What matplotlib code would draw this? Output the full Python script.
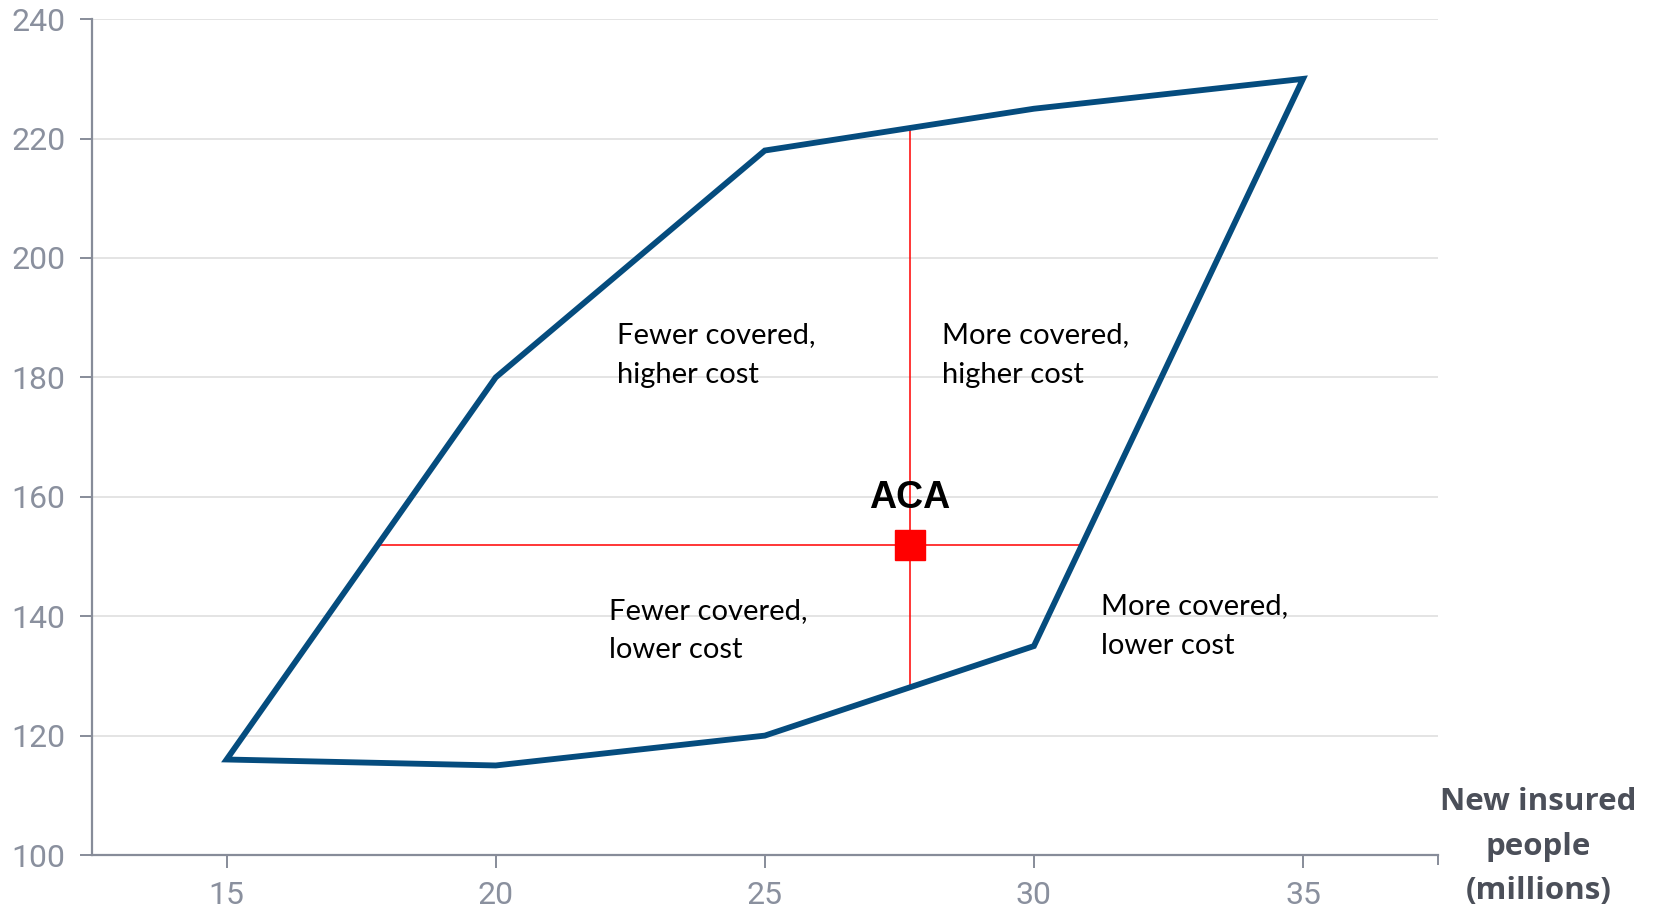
import numpy as np
import matplotlib.pyplot as plt

# outline of the possible outcomes (new insured millions, cost)
outline_x = [15, 20, 25, 30, 35, 30, 25, 20]
outline_y = [116, 180, 218, 225, 230, 135, 120, 115]

aca_x = 27.7
aca_y = 152
hline_x = [17.8, 30.9]
vline_y = [127.8, 221.6]

quadrant_labels = ["Fewer covered,\nhigher cost", "More covered,\nhigher cost",
                   "Fewer covered,\nlower cost", "More covered,\nlower cost"]
quadrant_x = [22.25, 28.3, 22.1, 31.25]
quadrant_y = [183.8, 183.8, 137.6, 138.3]

xticks = [15, 20, 25, 30, 35]
yticks = [100, 120, 140, 160, 180, 200, 220, 240]

axis_col = '#878c99'
tick_col = '#8a909e'

fig = plt.figure(figsize=(16.56, 9.13), dpi=100)
ax = fig.add_axes([0.0556, 0.0635, 0.8125, 0.9155])

ax.set_xlim(12.5, 37.5)
ax.set_ylim(100, 240)

for y in yticks[1:]:
    ax.axhline(y, color='#e2e2e2', lw=1.3, zorder=0)

ax.fill(outline_x, outline_y, fill=False, edgecolor='#054c7e', lw=4.2,
        joinstyle='miter', zorder=3)

ax.plot(hline_x, [aca_y, aca_y], color='#ff0000', lw=1.1, zorder=2)
ax.plot([aca_x, aca_x], vline_y, color='#ff0000', lw=1.1, zorder=2)
ax.plot([aca_x], [aca_y], marker='s', color='#ff0000', markersize=22, zorder=4)
ax.text(aca_x, 159.8, "ACA", ha='center', va='center', fontsize=27,
        fontweight='bold', family='Liberation Sans', color='black')

for lab, x, y in zip(quadrant_labels, quadrant_x, quadrant_y):
    ax.text(x, y, lab, ha='left', va='center', fontsize=21, family='Lato',
            color='black', linespacing=1.65)

ax.text(39.37, 101.4, "New insured\npeople\n(millions)", ha='center', va='center',
        fontsize=22.5, fontweight='bold', family='Open Sans', color='#4b4f59',
        linespacing=1.63, clip_on=False)

for s in ['top', 'right']:
    ax.spines[s].set_visible(False)
for s in ['left', 'bottom']:
    ax.spines[s].set_color(axis_col)
    ax.spines[s].set_linewidth(1.6)

ax.set_xticks(xticks)
ax.set_yticks(yticks)
ax.set_xticks([37.5], minor=True)
ax.tick_params(axis='both', which='both', color=axis_col, width=1.4, length=9,
               direction='out', labelcolor=tick_col, labelsize=23)
ax.tick_params(axis='x', which='minor', length=7)
ax.tick_params(axis='x', pad=10)
ax.tick_params(axis='y', pad=10)
for lab in ax.get_xticklabels() + ax.get_yticklabels():
    lab.set_family('Roboto')

fig.savefig('out.png', dpi=100)
